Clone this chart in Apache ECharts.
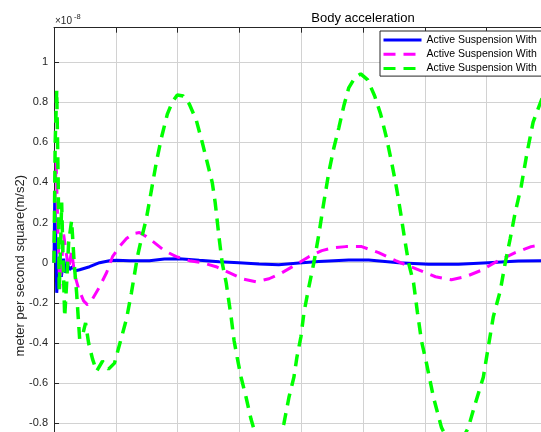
<!DOCTYPE html>
<html>
<head>
<meta charset="utf-8">
<script src="https://cdn.jsdelivr.net/npm/echarts@6/dist/echarts.min.js"></script>
<style>html,body{margin:0;padding:0;background:#fff}#c{width:541px;height:432px}</style>
</head>
<body>
<div id="c"></div>
<script>
// ---- data (x in axis units, y in units of 1e-8 m/s^2) ----
const seriesNames = ['Active Suspension With', 'Active Suspension With ', 'Active Suspension With  '];
const yTickValues = [-0.8, -0.6, -0.4, -0.2, 0, 0.2, 0.4, 0.6, 0.8, 1];
const titleText = 'Body acceleration';
const yAxisTitle = 'meter per second square(m/s2)';

const blueT = [0,0.011,0.027,0.044,0.068,0.092,0.119,0.156,0.189,0.221,0.253,0.294,0.35,0.415,0.576,0.737,0.898,1.011,1.221,1.544,1.785,2.027,2.35,2.673,2.992,3.318,3.637,3.963,4.286,4.769,5.092,5.576,6.06,6.544,7.028,7.512,8.157];
const blueV = [0,0.31,0.15,-0.15,-0.05,0.03,-0.07,0.02,-0.05,-0.01,-0.035,-0.02,-0.04,-0.035,-0.02,0,0.01,0.012,0.01,0.01,0.018,0.02,0.012,0.005,0,-0.007,-0.01,-0.002,0.006,0.013,0.013,0,-0.008,-0.008,0,0.008,0.01];

const magT = [0,0.019,0.035,0.06,0.092,0.124,0.156,0.197,0.237,0.285,0.334,0.398,0.479,0.544,0.624,0.737,0.85,0.947,1.06,1.173,1.285,1.382,1.495,1.624,1.785,1.979,2.189,2.398,2.624,2.834,3.044,3.27,3.479,3.689,3.915,4.124,4.334,4.527,4.721,4.979,5.253,5.527,5.85,6.173,6.431,6.656,6.898,7.189,7.463,7.721,7.915,8.156];
const magV = [0,0.35,0.5,0.2,-0.13,0,0.14,0.05,-0.03,0.06,-0.06,-0.13,-0.19,-0.21,-0.18,-0.12,-0.05,0.03,0.08,0.12,0.145,0.15,0.13,0.1,0.06,0.03,0.01,0,-0.02,-0.05,-0.08,-0.095,-0.08,-0.05,-0.01,0.03,0.06,0.075,0.08,0.08,0.05,0.01,-0.03,-0.07,-0.085,-0.07,-0.04,0.01,0.05,0.08,0.09,0.09];

const greenT = [0,0.019,0.044,0.068,0.084,0.108,0.124,0.148,0.173,0.205,0.237,0.285,0.326,0.366,0.415,0.463,0.511,0.56,0.624,0.689,0.785,0.882,0.979,1.076,1.173,1.253,1.35,1.415,1.495,1.576,1.656,1.737,1.834,1.915,1.995,2.092,2.189,2.302,2.398,2.479,2.56,2.608,2.673,2.721,2.786,2.866,2.915,2.963,3.027,3.108,3.189,3.285,3.382,3.479,3.576,3.656,3.721,3.802,3.882,3.931,3.995,4.044,4.124,4.205,4.285,4.366,4.447,4.527,4.608,4.689,4.769,4.866,4.963,5.076,5.189,5.285,5.382,5.463,5.544,5.608,5.673,5.737,5.818,5.882,5.947,6.027,6.14,6.269,6.382,6.479,6.592,6.705,6.818,6.947,7.027,7.108,7.221,7.302,7.382,7.463,7.56,7.656,7.753,7.85,7.963,8.092];
const greenV = [0,0.6,0.86,0.4,-0.14,0.1,0.3,0,-0.27,-0.1,0.1,0.21,0,-0.15,-0.38,-0.36,-0.3,-0.4,-0.48,-0.54,-0.49,-0.53,-0.5,-0.39,-0.28,-0.15,0.03,0.12,0.22,0.36,0.5,0.62,0.74,0.8,0.835,0.83,0.79,0.71,0.6,0.5,0.4,0.3,0.12,0,-0.1,-0.27,-0.39,-0.47,-0.57,-0.67,-0.78,-0.88,-0.94,-0.96,-0.93,-0.87,-0.8,-0.67,-0.57,-0.47,-0.37,-0.25,-0.12,0,0.14,0.3,0.45,0.57,0.67,0.78,0.87,0.92,0.94,0.91,0.83,0.74,0.62,0.5,0.37,0.25,0.12,0,-0.1,-0.25,-0.39,-0.5,-0.67,-0.82,-0.89,-0.91,-0.89,-0.82,-0.7,-0.57,-0.42,-0.27,-0.14,0,0.12,0.25,0.38,0.55,0.7,0.78,0.87,0.9];

// ---- chart ----
const FONT = '"Liberation Sans", Arial, Helvetica, sans-serif';
const AX = '#262626';
const GRIDC = '#d2d2d2';
const zip = (t, v) => t.slice(0, Math.min(t.length, v.length)).map((x, i) => [x, v[i]]);

const chart = echarts.init(document.getElementById('c'), null, {renderer: 'canvas', width: 541, height: 432});
chart.setOption({
  animation: false,
  backgroundColor: '#ffffff',
  grid: {left: 54, top: 27.7, width: 618, height: 476, containLabel: false, outerBoundsMode: 'none'},
  xAxis: [
    {type: 'value', min: 0, max: 10, interval: 1, position: 'bottom',
     axisLine: {show: true, onZero: false, lineStyle: {color: AX}},
     axisTick: {show: true, inside: true, length: 5, lineStyle: {color: AX}},
     axisLabel: {show: true, fontSize: 11, color: AX, fontFamily: FONT},
     splitLine: {show: true, lineStyle: {color: GRIDC, width: 1}}},
    {type: 'value', min: 0, max: 10, interval: 1, position: 'top',
     axisLine: {show: true, onZero: false, lineStyle: {color: AX}},
     axisTick: {show: true, inside: true, length: 5, lineStyle: {color: AX}},
     axisLabel: {show: false}, splitLine: {show: false}}
  ],
  yAxis: [{
    type: 'value', min: -1.2, max: 1.17, interval: 0.2, position: 'left',
    name: yAxisTitle, nameLocation: 'middle', nameGap: 27, nameMoveOverlap: false,
    nameTextStyle: {fontSize: 13, color: AX, fontFamily: FONT},
    axisLine: {show: true, onZero: false, lineStyle: {color: AX}},
    axisTick: {show: true, inside: true, length: 5, lineStyle: {color: AX}},
    axisLabel: {showMaxLabel: false, margin: 6, fontSize: 11, color: AX, fontFamily: FONT,
      formatter: v => { const r = Math.round(v * 10) / 10; return yTickValues.includes(r) ? String(r) : ''; }},
    splitLine: {show: true, lineStyle: {color: GRIDC, width: 1}}
  }],
  legend: {
    orient: 'vertical', left: 380, top: 31, padding: [3, 40, 1.5, 2],
    itemWidth: 38, itemHeight: 12, itemGap: 2.3,
    backgroundColor: '#ffffff', borderColor: AX, borderWidth: 1, borderRadius: 0,
    textStyle: {fontSize: 10.5, color: '#000', fontFamily: FONT, lineHeight: 12},
    lineStyle: {width: 3},
    itemStyle: {opacity: 0, color: 'rgba(0,0,0,0)', borderWidth: 0},
    formatter: n => n.trim(),
    data: seriesNames
  },
  graphic: [
    {type: 'text', x: 363, y: 18.5, z: 100,
     style: {text: titleText, fontSize: 13, fontFamily: FONT, fill: '#000',
             textAlign: 'center', align: 'center', textVerticalAlign: 'middle', verticalAlign: 'middle'}},
    {type: 'text', x: 55, y: 21.5, z: 100,
     style: {text: '\u00d710', fontSize: 10, fontFamily: FONT, fill: AX,
             textAlign: 'left', align: 'left', textVerticalAlign: 'middle', verticalAlign: 'middle'}},
    {type: 'text', x: 74, y: 16.5, z: 100,
     style: {text: '-8', fontSize: 7.5, fontFamily: FONT, fill: AX,
             textAlign: 'left', align: 'left', textVerticalAlign: 'middle', verticalAlign: 'middle'}}
  ],
  series: [
    {type: 'line', name: seriesNames[0], data: zip(blueT, blueV), symbol: 'none', showSymbol: false,
     clip: true, lineStyle: {color: '#0000ff', width: 3}, itemStyle: {color: '#0000ff'}, z: 2},
    {type: 'line', name: seriesNames[1], data: zip(magT, magV), symbol: 'none', showSymbol: false,
     clip: true, lineStyle: {color: '#ff00ff', width: 3, type: [12, 8]}, itemStyle: {color: '#ff00ff'}, z: 3},
    {type: 'line', name: seriesNames[2], data: zip(greenT, greenV), symbol: 'none', showSymbol: false,
     clip: true, lineStyle: {color: '#00ff00', width: 3.5, type: [12, 8]}, itemStyle: {color: '#00ff00'}, z: 4}
  ]
});
</script>
</body>
</html>
